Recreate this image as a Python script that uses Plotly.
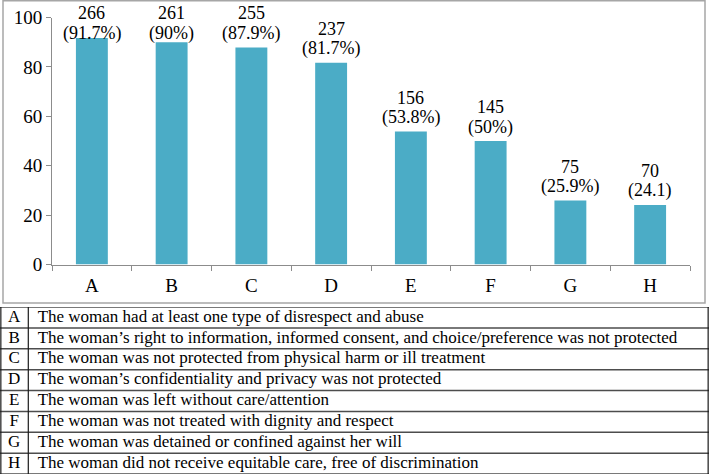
import plotly.graph_objects as go

categories = ["A", "B", "C", "D", "E", "F", "G", "H"]
percent_values = [91.7, 90, 87.9, 81.7, 53.8, 50, 25.9, 24.1]
counts = [266, 261, 255, 237, 156, 145, 75, 70]
percent_labels = ["(91.7%)", "(90%)", "(87.9%)", "(81.7%)", "(53.8%)", "(50%)", "(25.9%)", "(24.1)"]
y_ticks = [0, 20, 40, 60, 80, 100]
descriptions = [
    "The woman had at least one type of disrespect and abuse",
    "The woman\u2019s right to information, informed consent, and choice/preference was not protected",
    "The woman was not protected from physical harm or ill treatment",
    "The woman\u2019s confidentiality and privacy was not protected",
    "The woman was left without care/attention",
    "The woman was not treated with dignity and respect",
    "The woman was detained or confined against her will",
    "The woman did not receive equitable care, free of discrimination",
]

W, H = 709, 474
SERIF = "Liberation Serif, Times New Roman, serif"
BAR_COLOR = "#4BACC6"
LABEL_CAP = 87.9  # labels of the tallest bars are held inside the chart frame
N = len(categories)

fig = go.Figure()
fig.add_trace(go.Bar(
    x=categories, y=percent_values, marker=dict(color=BAR_COLOR, line=dict(width=0)),
    width=0.4, hoverinfo="skip", showlegend=False,
))

for c, v, n, p in zip(categories, percent_values, counts, percent_labels):
    yv = min(v, LABEL_CAP)
    fig.add_annotation(x=c, y=yv, xref="x", yref="y", text=p, showarrow=False,
                       yanchor="middle", yshift=14,
                       font=dict(family=SERIF, size=18, color="black"))
    fig.add_annotation(x=c, y=yv, xref="x", yref="y", text=str(n), showarrow=False,
                       yanchor="middle", yshift=34,
                       font=dict(family=SERIF, size=18, color="black"))

# ---- description table below the chart, drawn on its own axes (x2 / y2) ----
rows = list(range(N))
fig.add_trace(go.Scatter(
    x=[0.5] * N, y=rows, mode="text", text=categories, textposition="middle center",
    textfont=dict(family=SERIF, size=17, color="black"),
    xaxis="x2", yaxis="y2", hoverinfo="skip", showlegend=False,
))
fig.add_trace(go.Scatter(
    x=[1.33] * N, y=rows, mode="text", text=descriptions, textposition="middle right",
    textfont=dict(family=SERIF, size=17, color="black"),
    xaxis="x2", yaxis="y2", hoverinfo="skip", showlegend=False,
))
# table rules (x2 unit = letter-column width)
TABLE_X1 = W / 28.3
for k in range(N + 1):
    fig.add_shape(type="line", xref="x2", yref="y2", x0=0, x1=TABLE_X1,
                  y0=k - 0.5, y1=k - 0.5, line=dict(color="#4d4d4d", width=1.5))
for xv in (0.03, 1.0, TABLE_X1 - 0.03):
    fig.add_shape(type="line", xref="x2", yref="y2", x0=xv, x1=xv,
                  y0=-0.5, y1=N - 0.5, line=dict(color="#1a1a1a", width=1.2))

# chart frame
fig.add_shape(type="rect", xref="paper", yref="paper",
              x0=3 / W, x1=705 / W, y0=(H - 303) / H, y1=(H - 0.7) / H,
              line=dict(color="#a6a6a6", width=1.5), fillcolor="rgba(0,0,0,0)", layer="below")

fig.update_layout(
    width=W, height=H,
    margin=dict(l=0, r=0, t=0, b=0, autoexpand=False),
    paper_bgcolor="white", plot_bgcolor="rgba(0,0,0,0)",
    bargap=0.6,
    xaxis=dict(
        domain=[52 / W, 690 / W], type="category", automargin=False,
        showline=True, linecolor="#8c8c8c", linewidth=1,
        ticks="outside", tickson="boundaries", ticklen=5, tickcolor="#8c8c8c",
        tickfont=dict(family=SERIF, size=19, color="black"), ticklabelstandoff=4,
        showgrid=False, zeroline=False, fixedrange=True,
    ),
    yaxis=dict(
        domain=[(H - 264.5) / H, (H - 17.5) / H], range=[0, 100], automargin=False,
        tickvals=y_ticks, showline=True, linecolor="#8c8c8c", linewidth=1,
        ticks="outside", ticklen=5, tickcolor="#8c8c8c",
        tickfont=dict(family=SERIF, size=19, color="black"),
        showgrid=False, zeroline=False, fixedrange=True,
    ),
    xaxis2=dict(domain=[0, 1], range=[0, TABLE_X1], visible=False, anchor="y2",
                fixedrange=True),
    yaxis2=dict(domain=[0, (H - 307) / H], range=[N - 0.5, -0.5], visible=False,
                anchor="x2", fixedrange=True),
)

fig.write_html(
    "out.html",
    config={"displayModeBar": False},
    post_script="document.body.style.margin='0';document.body.style.overflow='hidden';",
)
